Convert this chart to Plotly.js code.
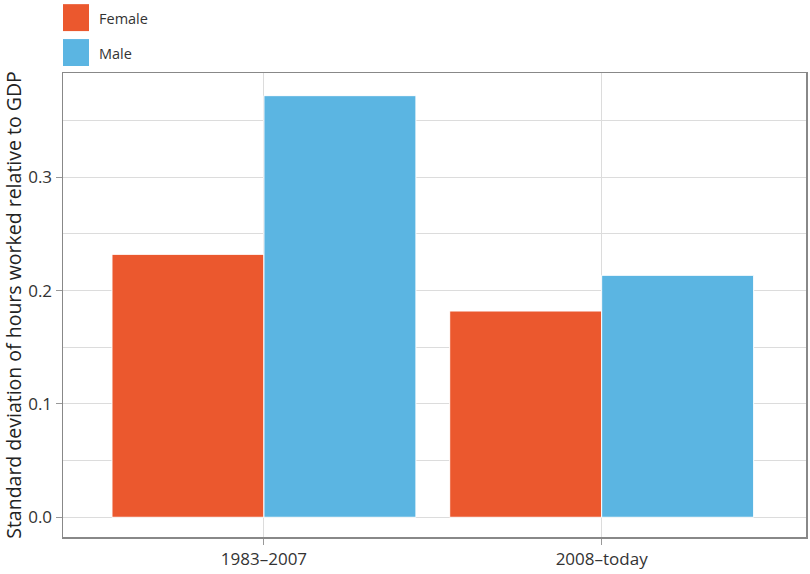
<!DOCTYPE html>
<html>
<head>
<meta charset="utf-8">
<script src="https://cdn.plot.ly/plotly-3.0.1.min.js"></script>
<style>html,body{margin:0;padding:0;background:#fff;}#chart{width:810px;height:574px;}</style>
</head>
<body>
<div id="chart"></div>
<script>
const categories = ["1983–2007", "2008–today"];
const femaleValues = [0.232, 0.182];
const maleValues = [0.372, 0.2135];
const seriesNames = ["Female", "Male"];
const seriesColors = ["#EB582E", "#5BB5E2"];
const yTickVals = [0, 0.1, 0.2, 0.3];
const yTickText = ["0.0", "0.1", "0.2", "0.3"];
const yTitle = "Standard deviation of hours worked relative to GDP";

const font = "'Open Sans', 'Noto Sans', sans-serif";

const traces = [femaleValues, maleValues].map((vals, i) => ({
  type: "bar",
  name: seriesNames[i],
  x: [0, 1],
  y: vals,
  marker: {color: seriesColors[i], line: {color: "#ffffff", width: 1}},
  showlegend: false,
  hoverinfo: "skip"
}));

const legendShapes = [];
const legendAnn = [];
seriesNames.forEach((n, i) => {
  legendShapes.push({
    type: "rect", xref: "paper", yref: "paper",
    x0: 0, x1: 26 / 743,
    y0: (538 - (4 + i * 35)) / 465, y1: (538 - (31 + i * 35)) / 465,
    fillcolor: seriesColors[i], line: {width: 0}
  });
  legendAnn.push({
    xref: "paper", yref: "paper", x: 34 / 743, y: (538 - (18 + i * 35)) / 465,
    xanchor: "left", yanchor: "middle", showarrow: false,
    text: n, font: {family: font, size: 14.5, color: "#333"}
  });
});

const layout = {
  width: 810, height: 574,
  margin: {l: 63, r: 4, t: 73, b: 37},
  paper_bgcolor: "#fff", plot_bgcolor: "#fff",
  barmode: "group", bargap: 0.1, bargroupgap: 0,
  font: {family: font, size: 17, color: "#333"},
  xaxis: {
    range: [-0.595, 1.605],
    tickvals: [0, 1], ticktext: categories,
    ticks: "outside", ticklen: 6, tickcolor: "#999", tickwidth: 1,
    showgrid: true, gridcolor: "#dcdcdc", gridwidth: 1,
    showline: true, linecolor: "#888", linewidth: 1.5, mirror: true,
    zeroline: false,
    tickfont: {family: font, size: 17, color: "#333"}
  },
  yaxis: {
    range: [-0.0174, 0.392],
    tickvals: yTickVals, ticktext: yTickText,
    ticks: "outside", ticklen: 6, tickcolor: "#999", tickwidth: 1,
    showgrid: true, gridcolor: "#dcdcdc", gridwidth: 1,
    minor: {dtick: 0.05, tick0: 0, showgrid: true, gridcolor: "#dcdcdc", gridwidth: 1, ticks: ""},
    showline: true, linecolor: "#888", linewidth: 1.5, mirror: true,
    zeroline: false,
    tickfont: {family: font, size: 17, color: "#333"},
    title: {text: yTitle, font: {family: font, size: 19.5, color: "#222"}, standoff: 6}
  },
  shapes: legendShapes,
  annotations: legendAnn
};

Plotly.newPlot("chart", traces, layout, {displayModeBar: false, staticPlot: true});
</script>
</body>
</html>
